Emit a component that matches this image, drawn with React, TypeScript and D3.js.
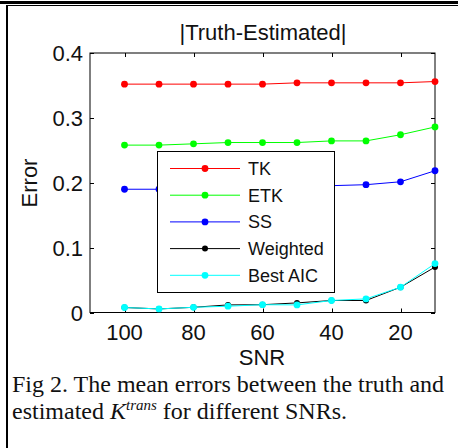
import React, { useEffect, useRef } from "react";
import * as d3 from "d3";

// values
const snr = [100, 90, 80, 70, 60, 50, 40, 30, 20, 10];
const tk = [0.352, 0.352, 0.352, 0.352, 0.352, 0.354, 0.354, 0.354, 0.354, 0.356];
const etk = [0.258, 0.258, 0.26, 0.262, 0.262, 0.262, 0.2645, 0.2645, 0.274, 0.286];
const ss = [0.19, 0.19, 0.191, 0.192, 0.193, 0.194, 0.1955, 0.197, 0.2015, 0.2185];
const weighted = [0.0077, 0.0055, 0.008, 0.0117, 0.012, 0.0148, 0.0185, 0.0185, 0.039, 0.07];
const bestAic = [0.0077, 0.0055, 0.008, 0.0097, 0.012, 0.0117, 0.0185, 0.021, 0.039, 0.0754];

const seriesNames = ["TK", "ETK", "SS", "Weighted", "Best AIC"];
const seriesColors = ["#ff0000", "#00ff00", "#0000ff", "#000000", "#00ffff"];
const xTicks = [100, 80, 60, 40, 20];
const yTicks = [0, 0.1, 0.2, 0.3, 0.4];

const SANS = "'Liberation Sans', Arial, sans-serif";
const SERIF = "'Liberation Serif', 'Times New Roman', serif";

const App = () => {
  const ref = useRef<SVGSVGElement>(null);

  useEffect(() => {
    const width = 458;
    const height = 448;
    const left = 90, right = 435, top = 53, bottom = 312.5;

    const svg = d3.select(ref.current).attr("width", width).attr("height", height);
    svg.selectAll("*").remove();

    svg.append("rect").attr("width", width).attr("height", height).attr("fill", "white");

    // page frame
    svg.append("rect").attr("x", 0).attr("y", 1).attr("width", width).attr("height", 3).attr("fill", "black");
    svg.append("line").attr("x1", 6).attr("x2", width).attr("y1", 5.5).attr("y2", 5.5).attr("stroke", "black").attr("stroke-width", 1);
    svg.append("line").attr("x1", 7).attr("x2", 7).attr("y1", 5).attr("y2", height).attr("stroke", "black").attr("stroke-width", 2);

    const x = d3.scaleLinear().domain([110, 10]).range([left, right]);
    const y = d3.scaleLinear().domain([0, 0.4]).range([bottom, top]);

    const g = svg.append("g");

    // axes box
    g.append("rect")
      .attr("x", left).attr("y", top)
      .attr("width", right - left).attr("height", bottom - top)
      .attr("fill", "none").attr("stroke", "black").attr("stroke-width", 1);

    const tl = 4;
    xTicks.forEach((t) => {
      const xp = Math.round(x(t)) + 0.5;
      g.append("line").attr("x1", xp).attr("x2", xp).attr("y1", bottom).attr("y2", bottom - tl).attr("stroke", "black");
      g.append("line").attr("x1", xp).attr("x2", xp).attr("y1", top).attr("y2", top + tl).attr("stroke", "black");
      g.append("text")
        .attr("x", x(t)).attr("y", 340)
        .attr("text-anchor", "middle")
        .attr("font-family", SANS).attr("font-size", "22px").attr("fill", "#111")
        .text(t);
    });
    yTicks.forEach((t) => {
      const yp = Math.round(y(t)) + 0.5;
      g.append("line").attr("x1", left).attr("x2", left + tl).attr("y1", yp).attr("y2", yp).attr("stroke", "black");
      g.append("line").attr("x1", right).attr("x2", right - tl).attr("y1", yp).attr("y2", yp).attr("stroke", "black");
      g.append("text")
        .attr("x", 83).attr("y", y(t) + 8)
        .attr("text-anchor", "end")
        .attr("font-family", SANS).attr("font-size", "22px").attr("fill", "#111")
        .text(t === 0 ? "0" : d3.format(".1f")(t));
    });

    // titles
    g.append("text").attr("x", 263).attr("y", 40).attr("text-anchor", "middle")
      .attr("font-family", SANS).attr("font-size", "22px").attr("fill", "#111").text("|Truth-Estimated|");
    g.append("text").attr("x", 262).attr("y", 365).attr("text-anchor", "middle")
      .attr("font-family", SANS).attr("font-size", "22px").attr("fill", "#111").text("SNR");
    g.append("text").attr("transform", "translate(37,183) rotate(-90)").attr("text-anchor", "middle")
      .attr("font-family", SANS).attr("font-size", "22px").attr("fill", "#111").text("Error");

    // series
    const allSeries = [tk, etk, ss, weighted, bestAic];
    const line = d3.line<number>().x((_, i) => x(snr[i])).y((d) => y(d));
    allSeries.forEach((vals, si) => {
      g.append("path").attr("d", line(vals)).attr("fill", "none")
        .attr("stroke", seriesColors[si]).attr("stroke-width", 1);
      g.selectAll(null).data(vals).enter().append("circle")
        .attr("cx", (_, i) => x(snr[i])).attr("cy", (d) => y(d))
        .attr("r", si === 3 ? 3 : 3.4).attr("fill", seriesColors[si]);
    });

    // legend
    const lg = g.append("g");
    lg.append("rect").attr("x", 157.5).attr("y", 151.5).attr("width", 177).attr("height", 141)
      .attr("fill", "white").attr("stroke", "black").attr("stroke-width", 1);
    seriesNames.forEach((name, i) => {
      const ry = 168.5 + i * 26.7;
      lg.append("line").attr("x1", 170).attr("x2", 240).attr("y1", ry).attr("y2", ry)
        .attr("stroke", seriesColors[i]).attr("stroke-width", 1);
      lg.append("circle").attr("cx", 205).attr("cy", ry).attr("r", i === 3 ? 3 : 3.4).attr("fill", seriesColors[i]);
      lg.append("text").attr("x", 248).attr("y", ry + 6.5)
        .attr("font-family", SANS).attr("font-size", "18px").attr("fill", "#111").text(name);
    });

    // caption
    svg.append("text").attr("x", 12).attr("y", 392)
      .attr("font-family", SERIF).attr("font-size", "24px").attr("fill", "#111")
      .text("Fig 2. The mean errors between the truth and");
    const cap2 = svg.append("text").attr("x", 12).attr("y", 419)
      .attr("font-family", SERIF).attr("font-size", "24px").attr("fill", "#111");
    cap2.append("tspan").text("estimated ");
    cap2.append("tspan").attr("font-style", "italic").text("K");
    cap2.append("tspan").attr("font-style", "italic").attr("font-size", "15px").attr("dy", -9).text("trans");
    cap2.append("tspan").attr("dy", 9).text(" for different SNRs.");
  }, []);

  return (
    <svg ref={ref} style={{ position: "absolute", left: 0, top: 0, display: "block" }}></svg>
  );
};

export default App;
